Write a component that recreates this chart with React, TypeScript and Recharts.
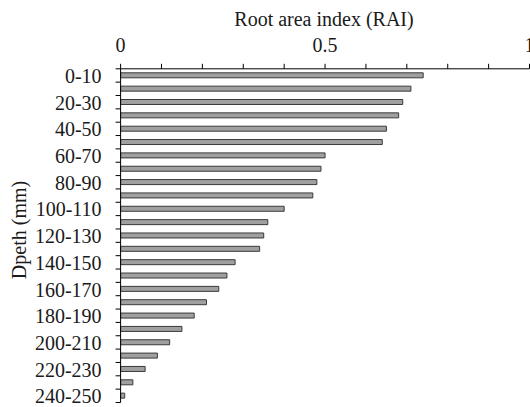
import React from 'react';
import { BarChart, Bar, XAxis, YAxis } from 'recharts';

const depthLabels = [
  '0-10', '10-20', '20-30', '30-40', '40-50', '50-60', '60-70', '70-80', '80-90', '90-100',
  '100-110', '110-120', '120-130', '130-140', '140-150', '150-160', '160-170', '170-180',
  '180-190', '190-200', '200-210', '210-220', '220-230', '230-240', '240-250',
];
const raiValues = [
  0.74, 0.71, 0.69, 0.68, 0.65, 0.64, 0.5, 0.49, 0.48, 0.47,
  0.4, 0.36, 0.35, 0.34, 0.28, 0.26, 0.24, 0.21,
  0.18, 0.15, 0.12, 0.09, 0.06, 0.03, 0.01,
];
const xTicks = [0, 0.1, 0.2, 0.3, 0.4, 0.5, 0.6, 0.7, 0.8, 0.9, 1];
const xTickLabels = ['0', '0.5', '1'];

const data = depthLabels.map((depth, i) => ({ depth, rai: raiValues[i] }));

const FONT = '"Liberation Serif", "Times New Roman", serif';
const FS = 20;

const DepthTick = (props: any) => {
  const { x, y, payload, index } = props;
  const half = payload && payload.offset ? payload.offset : 6.68;
  const i = payload && typeof payload.index === 'number' ? payload.index : index;
  return (
    <g>
      <line x1={x - 5} x2={x} y1={y - half} y2={y - half} stroke="#000" strokeWidth={1} />
      {i === depthLabels.length - 1 && (
        <line x1={x - 5} x2={x} y1={y + half} y2={y + half} stroke="#000" strokeWidth={1} />
      )}
      {i % 2 === 0 && (
        <text x={x - 19} y={y + 0.5} textAnchor="end" dominantBaseline="central" fontFamily={FONT} fontSize={FS} fill="#1a1a1a">
          {payload.value}
        </text>
      )}
    </g>
  );
};

const YTitle = () => (
  <text x={19} y={230} transform="rotate(-90, 19, 230)" textAnchor="middle" dominantBaseline="central" fontFamily={FONT} fontSize={FS} fill="#1a1a1a">
    Dpeth (mm)
  </text>
);

const XTitle = () => (
  <text x={324} y={25.5} textAnchor="middle" fontFamily={FONT} fontSize={FS} fill="#1a1a1a">
    Root area index (RAI)
  </text>
);

export default function App() {
  return (
    <div style={{ position: 'absolute', left: 0, top: 0, width: 530, height: 407, background: '#fff' }}>
      <BarChart
        width={530}
        height={407}
        data={data}
        layout="vertical"
        margin={{ top: 38.8, right: 0.5, bottom: 4.5, left: 0 }}
      >
        <XAxis
          type="number"
          orientation="top"
          domain={[0, 1]}
          ticks={xTicks}
          interval={0}
          height={30}
          tickSize={5}
          tickMargin={12}
          axisLine={{ stroke: '#000' }}
          tickLine={{ stroke: '#000' }}
          tickFormatter={(v: number) => {
            const s = String(v);
            return xTickLabels.includes(s) ? s : '';
          }}
          tick={{ fontFamily: FONT, fontSize: FS, fill: '#1a1a1a' }}
          label={<XTitle />}
        />
        <YAxis
          type="category"
          dataKey="depth"
          width={120.6}
          interval={0}
          tickSize={0}
          tickMargin={0}
          tickLine={false}
          axisLine={{ stroke: '#000' }}
          tick={<DepthTick />}
          label={<YTitle />}
        />
        <Bar dataKey="rai" fill="#a0a0a0" stroke="#3a3a3a" strokeWidth={1} barSize={5} isAnimationActive={false} />
      </BarChart>
    </div>
  );
}
